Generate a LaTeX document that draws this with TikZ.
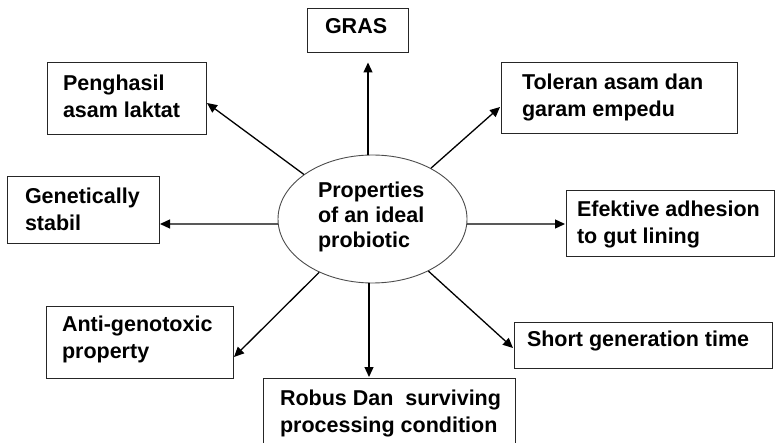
\documentclass[tikz,border=0pt]{standalone}
\usepackage{fontspec}
\setmainfont{Liberation Sans}
\usetikzlibrary{shapes.geometric,arrows.meta,calc}
\newcommand\sq{\rule[-4.6pt]{0pt}{20pt}}
\tikzset{
  boxnode/.style={draw=black!85, line width=1pt, rectangle, inner sep=0pt},
  txt/.style={inner sep=0pt, outer sep=0pt, anchor=west, align=left,
    font=\fontsize{21.5}{27}\selectfont\bfseries},
  ctxt/.style={inner sep=0pt, outer sep=0pt, anchor=west, align=left,
    font=\fontsize{21.5}{25}\selectfont\bfseries},
  arr/.style={draw=black, line width=1.3pt, -{Triangle[length=10pt,width=9pt]}},
}
\begin{document}
\begin{tikzpicture}[x=1pt,y=-1pt]
\useasboundingbox (0,0) rectangle (775,443);
% centre ellipse
\node[draw=black!70, line width=0.9pt, ellipse, minimum width=189pt, minimum height=128pt, inner sep=0pt] (c) at (372.5,219) {};
\node[ctxt] (ct) at (318,216.6) {\sq Properties\\\sq of an ideal\\\sq probiotic};
% boxes
\node[boxnode, minimum width=101pt, minimum height=44pt] (gras) at (357.5,31) {};
\node[txt] (grast) at (325,28.6) {\sq GRAS};
\node[boxnode, minimum width=159pt, minimum height=72pt] (pen) at (126.5,99) {};
\node[txt] (pent) at (63,98.1) {\sq Penghasil\\\sq asam laktat};
\node[boxnode, minimum width=152pt, minimum height=67pt] (gen) at (83,210.5) {};
\node[txt] (gent) at (25,211.4) {\sq Genetically\\\sq stabil};
\node[boxnode, minimum width=236pt, minimum height=71pt] (tol) at (619,98.5) {};
\node[txt] (tolt) at (522,97.4) {\sq Toleran asam dan\\\sq garam empedu};
\node[boxnode, minimum width=208pt, minimum height=66pt] (eff) at (670,224) {};
\node[txt] (efft) at (577,225) {\sq Efektive adhesion\\\sq to gut lining};
\node[boxnode, minimum width=187pt, minimum height=72pt] (anti) at (139.5,342) {};
\node[txt] (antit) at (62,339.8) {\sq Anti-genotoxic\\\sq property};
\node[boxnode, minimum width=258pt, minimum height=46pt] (short) at (643,345) {};
\node[txt] (shortt) at (527,341.3) {\sq Short generation time};
\node[boxnode, minimum width=252pt, minimum height=68pt] (robus) at (389,412) {};
\node[txt] (robust) at (280,413.1) {\sq Robus Dan\ \ surviving\\\sq processing condition};
% connectors
\draw[arr] ($(c.north)+(-4.5,0)$) -- ($(gras.south)+(10.5,9)$);
\draw[arr] (c.147.5) -- ($(pen.east)+(0.5,4)$);
\draw[arr] (c.183) -- ($(gen.east)+(0.5,13.5)$);
\draw[arr] (c.41.6) -- ($(tol.west)+(-0.5,8.5)$);
\draw[arr] (c.-3) -- ($(eff.west)+(-0.5,0)$);
\draw[arr] (c.225.8) -- ($(anti.east)+(0.5,15)$);
\draw[arr] ($(c.south)+(-3.5,0)$) -- ($(robus.north)+(-20,-0.5)$);
\draw[arr] (c.-43.2) -- ($(short.west)+(-0.5,3)$);
\end{tikzpicture}
\end{document}
